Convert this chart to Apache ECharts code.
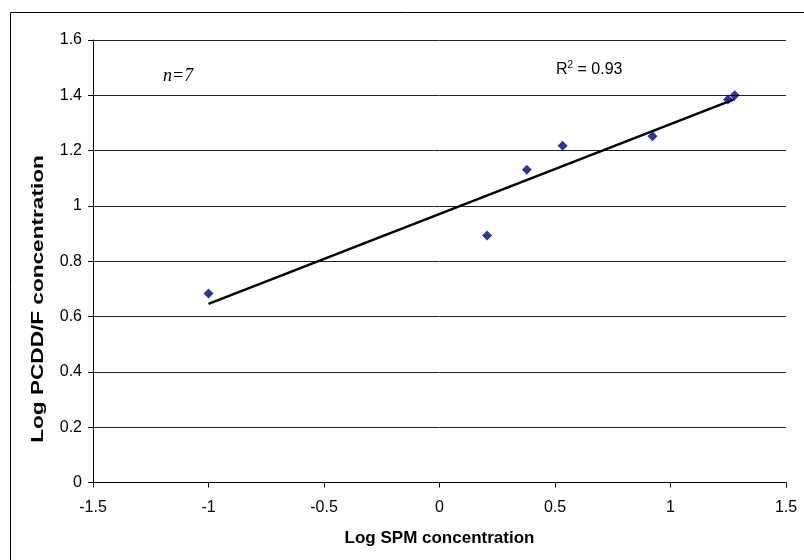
<!DOCTYPE html>
<html>
<head>
<meta charset="utf-8">
<script src="https://cdn.jsdelivr.net/npm/echarts@6/dist/echarts.min.js"></script>
<style>html,body{margin:0;padding:0;background:#fff}#c{width:804px;height:560px}</style>
</head>
<body>
<div id="c"></div>
<script>
// Data
var spmLog = [-1.0, 0.206, 0.378, 0.533, 0.922, 1.249, 1.278];
var pcddLog = [0.683, 0.893, 1.131, 1.218, 1.252, 1.385, 1.400];
// Trend line end points
var trendX = [-1.0, 1.278];
var trendY = [0.646, 1.386];
var xTicks = [-1.5, -1, -0.5, 0, 0.5, 1, 1.5];
var yTicks = [0, 0.2, 0.4, 0.6, 0.8, 1, 1.2, 1.4, 1.6];
var xTitle = 'Log SPM concentration';
var yTitle = 'Log PCDD/F concentration';

var pts = spmLog.map(function (x, i) { return [x, pcddLog[i]]; });
var trend = trendX.map(function (x, i) { return [x, trendY[i]]; });

var chart = echarts.init(document.getElementById('c'), null, {renderer: 'canvas'});
var font = 'Liberation Sans, Arial, sans-serif';
chart.setOption({
  animation: false,
  backgroundColor: '#fff',
  grid: {left: 93, right: 18, top: 40, bottom: 77.5, containLabel: false},
  xAxis: {
    type: 'value', min: xTicks[0], max: xTicks[xTicks.length - 1], interval: 0.5,
    name: xTitle, nameLocation: 'middle', nameGap: 47,
    nameTextStyle: {fontFamily: font, fontWeight: 'bold', fontSize: 17, color: '#000'},
    axisLine: {show: true, onZero: false, lineStyle: {color: '#000', width: 1}},
    axisTick: {show: true, inside: false, length: 5, lineStyle: {color: '#000'}},
    axisLabel: {fontFamily: font, fontSize: 16, color: '#000', margin: 17,
      formatter: function (v) { return String(v); }},
    splitLine: {show: false}
  },
  yAxis: {
    type: 'value', min: yTicks[0], max: yTicks[yTicks.length - 1], interval: 0.2,
    axisLine: {show: true, onZero: false, lineStyle: {color: '#000', width: 1}},
    axisTick: {show: true, inside: false, length: 5, lineStyle: {color: '#000'}},
    axisLabel: {fontFamily: font, fontSize: 16, color: '#000', margin: 11,
      formatter: function (v) { return String(Math.round(v * 10) / 10); }},
    splitLine: {show: true, lineStyle: {color: '#222', width: 1}}
  },
  graphic: [
    {type: 'rect', shape: {x: 10.5, y: 12.5, width: 900, height: 900},
      style: {fill: 'none', stroke: '#000', lineWidth: 1}, silent: true, z: -1},
    {type: 'text', x: 38.5, y: 299, rotation: Math.PI / 2, scaleX: 1.33, scaleY: 1,
      style: {text: yTitle, fontFamily: font, fontWeight: 'bold', fontSize: 17, fill: '#000',
        align: 'center', verticalAlign: 'middle'}},
    {type: 'text', left: 163, top: 67,
      style: {text: 'n=7', font: 'italic 18px "Liberation Serif", "Times New Roman", serif', fill: '#000'}},
    {type: 'text', left: 556, top: 60,
      style: {
        text: '{a|R}{s|2}{a| = 0.93}',
        rich: {
          a: {fontFamily: font, fontSize: 16, fill: '#000', verticalAlign: 'bottom'},
          s: {fontFamily: font, fontSize: 10, fill: '#000', verticalAlign: 'top', padding: [0, 0, 8, 0]}
        }
      }}
  ],
  series: [
    {type: 'line', data: trend, showSymbol: false, symbol: 'none',
      lineStyle: {color: '#000', width: 2.5}, z: 2, silent: true},
    {type: 'scatter', data: pts, symbol: 'diamond', symbolSize: 10,
      itemStyle: {color: '#000080'}, z: 3}
  ]
});
</script>
</body>
</html>
